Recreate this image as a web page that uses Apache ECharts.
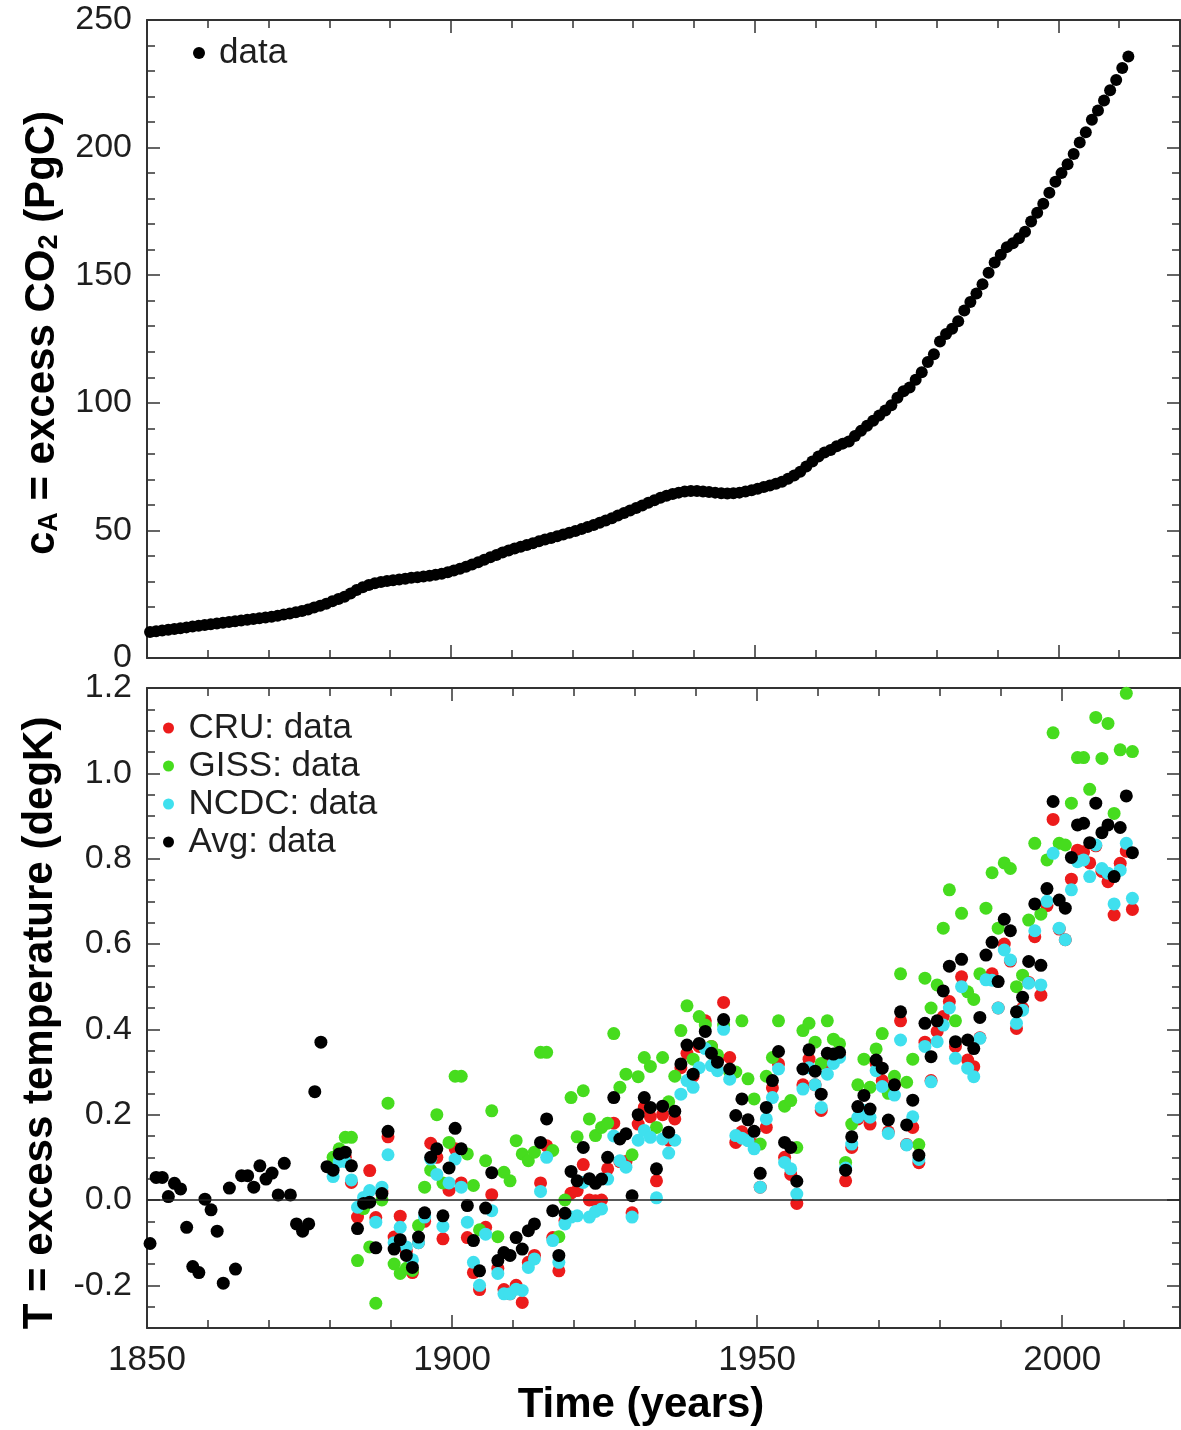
<!DOCTYPE html>
<html><head><meta charset="utf-8">
<script src="https://cdn.jsdelivr.net/npm/echarts@6/dist/echarts.min.js"></script>
<style>html,body{margin:0;padding:0;background:#fff}#c{width:1181px;height:1430px}</style>
</head><body><div id="c"></div>
<script>
// ---------- DATA ----------
// Top panel: excess atmospheric CO2 (PgC), one value per year starting 1850
const co2StartYear = 1850;
const co2Excess = [
  10.2,10.5,10.8,11.1,11.4,11.7,12.0,12.3,12.6,12.9,
  13.2,13.5,13.8,14.1,14.4,14.7,15.0,15.3,15.6,15.9,
  16.2,16.6,17.0,17.4,17.9,18.4,19.0,19.8,20.5,21.3,
  22.2,23.1,24.0,25.3,26.6,27.7,28.6,29.3,29.8,30.2,
  30.5,30.8,31.1,31.4,31.6,31.9,32.2,32.6,33.0,33.6,
  34.3,35.0,35.8,36.6,37.5,38.5,39.5,40.4,41.3,42.1,
  42.9,43.6,44.3,45.0,45.7,46.4,47.0,47.7,48.4,49.1,
  49.8,50.5,51.3,52.1,53.0,53.9,54.8,55.8,56.8,57.8,
  58.8,59.8,60.8,61.8,62.8,63.6,64.3,64.8,65.2,65.4,
  65.4,65.2,65.0,64.8,64.6,64.5,64.6,64.8,65.2,65.7,
  66.3,67.0,67.6,68.3,69.1,70.2,71.5,73.0,75.0,77.0,
  79.0,80.5,81.5,83.0,84.0,84.8,87.0,89.0,91.0,93.0,
  95.0,97.0,99.0,102.0,104.5,106.0,109.0,112.0,116.0,119.0,
  124.0,127.0,129.0,132.0,136.2,139.5,142.8,146.5,151.0,155.0,
  158.0,161.0,162.5,164.5,167.0,171.0,174.5,178.0,182.3,186.6,
  190.0,193.5,197.5,202.0,206.0,210.9,214.5,218.5,222.5,226.5,
  231.2,235.7
];

// Bottom panel: excess temperature (degK)
const avgStartYear = 1850;
const avgTemp = [
  -0.102,0.053,0.053,0.008,0.039,0.026,-0.064,-0.156,-0.17,0.002,
  -0.023,-0.073,-0.195,0.028,-0.162,0.057,0.057,0.03,0.08,0.049,
  0.063,0.012,0.086,0.012,-0.056,-0.073,-0.056,0.254,0.37,0.078,
  0.07,0.108,0.112,0.08,-0.067,-0.008,-0.005,-0.112,0.015,0.161,
  -0.115,-0.093,-0.13,-0.158,-0.087,-0.03,0.10,0.12,-0.037,0.075,
  0.168,0.12,-0.013,-0.095,-0.166,-0.019,0.064,-0.142,-0.123,-0.13,
  -0.088,-0.115,-0.072,-0.056,0.135,0.19,-0.025,-0.13,-0.031,0.067,
  0.045,0.123,0.05,0.039,0.049,0.1,0.24,0.143,0.155,0.01,
  0.2,0.24,0.217,0.073,0.22,0.159,0.208,0.319,0.363,0.295,
  0.367,0.395,0.344,0.323,0.423,0.307,0.198,0.237,0.188,0.161,
  0.0625,0.217,0.28,0.348,0.135,0.123,0.044,0.307,0.352,0.302,
  0.248,0.344,0.342,0.346,0.07,0.148,0.219,0.245,0.213,0.328,
  0.309,0.1875,0.27,0.441,0.176,0.234,0.105,0.414,0.336,0.42,
  0.49,0.548,0.371,0.564,0.375,0.355,0.428,0.574,0.604,0.512,
  0.658,0.631,0.441,0.475,0.559,0.694,0.55,0.73,0.934,0.703,
  0.684,0.803,0.879,0.883,0.8375,0.93,0.861,0.879,0.758,0.873,
  0.947,0.814
];
const seriesStartYear = 1880;
const cruTemp = [
  0.08,0.11,0.10,0.041,-0.04,-0.013,0.069,-0.041,0.02,0.148,
  -0.087,-0.038,-0.12,-0.17,-0.10,-0.05,0.133,0.10,-0.091,0.023,
  0.12,0.04,-0.088,-0.17,-0.21,-0.064,0.0125,-0.16,-0.21,-0.22,
  -0.20,-0.24,-0.146,-0.13,0.04,0.127,-0.088,-0.166,-0.048,0.016,
  0.022,0.083,0.0,-0.002,0.0,0.073,0.18,0.09,0.09,-0.03,
  0.178,0.217,0.195,0.045,0.2,0.14,0.19,0.31,0.344,0.29,
  0.36,0.42,0.36,0.33,0.463,0.334,0.135,0.16,0.14,0.13,
  0.03,0.17,0.263,0.319,0.10,0.06,-0.008,0.27,0.33,0.27,
  0.21,0.32,0.33,0.34,0.045,0.123,0.19,0.20,0.178,0.32,
  0.28,0.16,0.27,0.42,0.13,0.17,0.0875,0.37,0.28,0.395,
  0.43,0.465,0.36,0.523,0.328,0.3125,0.38,0.52,0.53,0.45,
  0.60,0.56,0.402,0.45,0.51,0.617,0.48,0.69,0.892,0.635,
  0.61,0.752,0.82,0.816,0.79,0.83,0.77,0.746,0.668,0.789,
  0.8175,0.681
];
const gissTemp = [
  0.10,0.12,0.147,0.147,-0.142,-0.02,-0.11,-0.242,0.0,0.227,
  -0.15,-0.172,-0.16,-0.165,-0.06,0.03,0.07,0.2,0.04,0.135,
  0.29,0.29,0.108,0.034,-0.07,0.092,0.209,-0.086,0.065,0.045,
  0.139,0.108,0.092,0.112,0.346,0.346,0.116,-0.086,0.0,0.24,
  0.148,0.256,0.19,0.151,0.17,0.18,0.39,0.264,0.295,0.106,
  0.289,0.334,0.313,0.17,0.334,0.23,0.29,0.397,0.455,0.33,
  0.43,0.41,0.36,0.34,0.41,0.30,0.30,0.42,0.284,0.237,
  0.131,0.29,0.334,0.42,0.22,0.233,0.123,0.397,0.414,0.37,
  0.32,0.42,0.377,0.366,0.088,0.178,0.27,0.33,0.264,0.354,
  0.39,0.25,0.29,0.53,0.276,0.33,0.13,0.52,0.45,0.504,
  0.637,0.727,0.42,0.672,0.488,0.47,0.53,0.684,0.767,0.637,
  0.79,0.777,0.5,0.527,0.656,0.836,0.67,0.797,1.095,0.836,
  0.832,0.93,1.037,1.037,0.9625,1.131,1.035,1.117,0.906,1.055,
  1.1875,1.051
];
const ncdcTemp = [
  0.055,0.09,0.09,0.047,-0.017,0.006,0.022,-0.052,0.03,0.106,
  -0.10,-0.064,-0.11,-0.14,-0.10,-0.04,0.096,0.06,-0.062,0.04,
  0.096,0.03,-0.052,-0.146,-0.2,-0.08,-0.025,-0.172,-0.22,-0.22,
  -0.209,-0.212,-0.158,-0.138,0.02,0.1,-0.095,-0.146,-0.056,-0.04,
  -0.037,0.041,-0.04,-0.027,-0.021,0.049,0.15,0.092,0.077,-0.04,
  0.14,0.163,0.147,0.005,0.143,0.11,0.14,0.248,0.28,0.264,
  0.31,0.355,0.315,0.303,0.4,0.283,0.151,0.145,0.139,0.12,
  0.03,0.19,0.24,0.307,0.088,0.073,0.014,0.26,0.31,0.27,
  0.217,0.295,0.32,0.334,0.075,0.131,0.194,0.21,0.194,0.303,
  0.266,0.156,0.246,0.375,0.129,0.195,0.095,0.36,0.277,0.371,
  0.41,0.45,0.332,0.5,0.309,0.289,0.379,0.516,0.515,0.45,
  0.586,0.5625,0.414,0.445,0.508,0.631,0.504,0.7,0.8125,0.637,
  0.61,0.727,0.793,0.797,0.758,0.832,0.777,0.766,0.694,0.773,
  0.836,0.707
];

// Tick labels
const yearTicks = [1850, 1900, 1950, 2000];
const co2Ticks = [0, 50, 100, 150, 200, 250];
const tempTicks = [-0.2, 0.0, 0.2, 0.4, 0.6, 0.8, 1.0, 1.2];

// Legend names
const topLegend = ['data'];
const bottomLegend = ['CRU: data', 'GISS: data', 'NCDC: data', 'Avg: data'];

// ---------- CHART ----------
const FONT = '"Liberation Sans", Arial, Helvetica, sans-serif';
const LINE = '#333';
const pts = (arr, start) => arr.map((v, i) => [start + i + 0.5, v]);

function range(a, b, step, skip) {
  const out = [];
  const n = Math.round((b - a) / step);
  for (let i = 0; i <= n; i++) {
    const v = +(a + i * step).toFixed(4);
    if (!skip || skip.indexOf(v) < 0) out.push(v);
  }
  return out;
}
const yearMinor = range(1860, 2010, 10, yearTicks);
const co2Minor = range(0, 250, 10, co2Ticks);
const tempMinor = range(-0.3, 1.2, 0.05, tempTicks);

const fYear = v => String(Math.round(v));
function mkX(gi, pos, max, vals, len, line, labels) {
  return {
    type: 'value', gridIndex: gi, position: pos, min: 1850, max: max,
    axisLine: { show: line, onZero: false, lineStyle: { color: LINE, width: 2 } },
    axisTick: { show: true, inside: true, length: len, customValues: vals,
      lineStyle: { color: LINE, width: 1.5 } },
    axisLabel: { show: labels, customValues: yearTicks, margin: 15, formatter: fYear,
      fontSize: 35, color: '#1e1e1e', fontFamily: FONT },
    splitLine: { show: false }
  };
}
function mkY(gi, pos, min, max, vals, labVals, len, line, labels, fmt) {
  return {
    type: 'value', gridIndex: gi, position: pos, min: min, max: max,
    axisLine: { show: line, onZero: false, lineStyle: { color: LINE, width: 2 } },
    axisTick: { show: true, inside: true, length: len, customValues: vals,
      lineStyle: { color: LINE, width: 1.5 } },
    axisLabel: { show: labels, customValues: labVals, margin: 15, formatter: fmt,
      fontSize: 34, color: '#1e1e1e', fontFamily: FONT },
    splitLine: { show: false }
  };
}

const topMax = 2020, botMax = 2019.3;
const xAxis = [
  mkX(0, 'bottom', topMax, yearTicks, 13, true, false),
  mkX(0, 'bottom', topMax, yearMinor, 8, false, false),
  mkX(0, 'top', topMax, yearTicks, 13, true, false),
  mkX(0, 'top', topMax, yearMinor, 8, false, false),
  mkX(1, 'bottom', botMax, yearTicks, 13, true, true),
  mkX(1, 'bottom', botMax, yearMinor, 8, false, false),
  mkX(1, 'top', botMax, yearTicks, 13, true, false),
  mkX(1, 'top', botMax, yearMinor, 8, false, false)
];
const fInt = v => String(Math.round(v));
const fTemp = v => (Math.abs(v) < 1e-9 ? 0 : v).toFixed(1);
const yAxis = [
  mkY(0, 'left', 0, 250, co2Ticks, co2Ticks, 13, true, true, fInt),
  mkY(0, 'left', 0, 250, co2Minor, co2Ticks, 8, false, false, fInt),
  mkY(0, 'right', 0, 250, co2Ticks, co2Ticks, 13, true, false, fInt),
  mkY(0, 'right', 0, 250, co2Minor, co2Ticks, 8, false, false, fInt),
  mkY(1, 'left', -0.3, 1.2, tempTicks, tempTicks, 13, true, true, fTemp),
  mkY(1, 'left', -0.3, 1.2, tempMinor, tempTicks, 8, false, false, fTemp),
  mkY(1, 'right', -0.3, 1.2, tempTicks, tempTicks, 13, true, false, fTemp),
  mkY(1, 'right', -0.3, 1.2, tempMinor, tempTicks, 8, false, false, fTemp)
];

const RED = '#ec1b1b', GREEN = '#46dc1e', CYAN = '#3fe0ee', BLACK = '#000000';
const legendText = { fontSize: 35, lineHeight: 38, color: '#1e1e1e', fontFamily: FONT };

const option = {
  animation: false,
  backgroundColor: '#ffffff',
  grid: [
    { left: 147, top: 20, width: 1033, height: 638 },
    { left: 147, top: 688, width: 1033, height: 640 }
  ],
  xAxis: xAxis,
  yAxis: yAxis,
  legend: [
    { data: topLegend, orient: 'vertical', left: 193, top: 34, padding: 0,
      itemWidth: 30, itemHeight: 12, itemGap: 0, icon: 'circle',
      selectedMode: false, textStyle: legendText },
    { data: bottomLegend, orient: 'vertical', left: 163, top: 709, padding: 0,
      itemWidth: 30, itemHeight: 11, itemGap: 0, icon: 'circle',
      selectedMode: false, textStyle: legendText }
  ],
  graphic: [
    { type: 'text', x: 42, y: 333, rotation: Math.PI / 2,
      style: {
        text: '{m|c}{s|A}{m| = excess CO}{s|2}{m| (PgC)}',
        align: 'center', verticalAlign: 'middle',
        textAlign: 'center', textVerticalAlign: 'middle',
        rich: {
          m: { fontSize: 42, fontWeight: 'bold', fontFamily: FONT, lineHeight: 42, fill: '#000' },
          s: { fontSize: 27, fontWeight: 'bold', fontFamily: FONT, lineHeight: 16,
               verticalAlign: 'bottom', fill: '#000' }
        }
      } },
    { type: 'text', x: 40, y: 1023, rotation: Math.PI / 2,
      style: { text: 'T = excess temperature (degK)', fontSize: 42, fontWeight: 'bold',
        fontFamily: FONT, fill: '#000', align: 'center', verticalAlign: 'middle',
        textAlign: 'center', textVerticalAlign: 'middle' } },
    { type: 'text', x: 641, y: 1405,
      style: { text: 'Time (years)', fontSize: 42, fontWeight: 'bold',
        fontFamily: FONT, fill: '#000', align: 'center', verticalAlign: 'middle',
        textAlign: 'center', textVerticalAlign: 'middle' } }
  ],
  series: [
    { name: topLegend[0], type: 'scatter', xAxisIndex: 0, yAxisIndex: 0,
      data: pts(co2Excess, co2StartYear), symbolSize: 12,
      itemStyle: { color: BLACK, opacity: 1 } },
    { name: bottomLegend[0], type: 'scatter', xAxisIndex: 4, yAxisIndex: 4,
      data: pts(cruTemp, seriesStartYear), symbolSize: 13,
      itemStyle: { color: RED, opacity: 1 },
      markLine: { silent: true, symbol: 'none', label: { show: false },
        lineStyle: { color: '#222', width: 1.5, type: 'solid' },
        data: [{ yAxis: 0 }] } },
    { name: bottomLegend[1], type: 'scatter', xAxisIndex: 4, yAxisIndex: 4,
      data: pts(gissTemp, seriesStartYear), symbolSize: 13,
      itemStyle: { color: GREEN, opacity: 1 } },
    { name: bottomLegend[2], type: 'scatter', xAxisIndex: 4, yAxisIndex: 4,
      data: pts(ncdcTemp, seriesStartYear), symbolSize: 13,
      itemStyle: { color: CYAN, opacity: 1 } },
    { name: bottomLegend[3], type: 'scatter', xAxisIndex: 4, yAxisIndex: 4,
      data: pts(avgTemp, avgStartYear), symbolSize: 13,
      itemStyle: { color: BLACK, opacity: 1 } }
  ]
};

const chart = echarts.init(document.getElementById('c'), null, { renderer: 'canvas' });
chart.setOption(option);
</script>
</body></html>
